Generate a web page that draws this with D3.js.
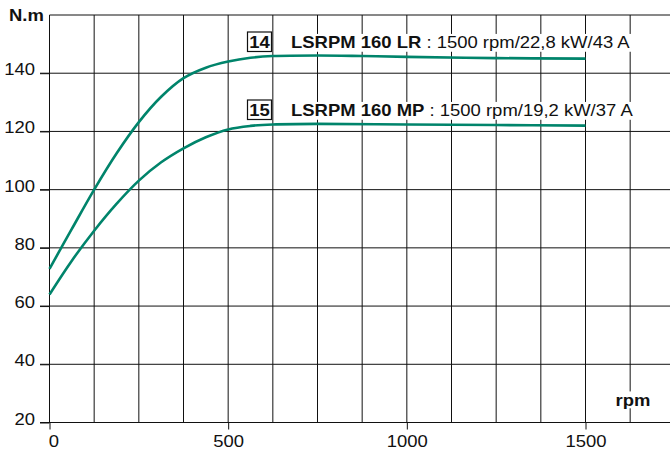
<!DOCTYPE html>
<html>
<head>
<meta charset="utf-8">
<script src="https://cdn.jsdelivr.net/npm/d3@7/dist/d3.min.js"></script>
<style>
  html, body { margin: 0; padding: 0; background: #fff; }
  svg { display: block; font-family: "Liberation Sans", Arial, sans-serif; }
</style>
</head>
<body>
<script>
// ---------- data ----------
const rpmLR = [0, 62.5, 125, 187.5, 250, 312.5, 375, 437.5, 500, 562.5, 625, 750, 875, 1000, 1250, 1500];
const torqueLR = [72.8, 86.5, 100, 112.4, 123.2, 131.9, 138.3, 141.9, 144.0, 145.3, 145.9, 146.1, 145.9, 145.6, 145.2, 145.0];
const rpmMP = [0, 62.5, 125, 187.5, 250, 312.5, 375, 437.5, 500, 562.5, 625, 750, 1000, 1250, 1500];
const torqueMP = [64.0, 75.6, 85.9, 95.1, 103.1, 109.4, 114.2, 118.0, 120.7, 121.9, 122.4, 122.6, 122.4, 122.2, 122.0];
const seriesIds = ["14", "15"];
const seriesNames = ["LSRPM 160 LR", "LSRPM 160 MP"];
const seriesDetails = [" : 1500 rpm/22,8 kW/43 A", " : 1500 rpm/19,2 kW/37 A"];
const xTickLabels = [0, 500, 1000, 1500];
const xGridValues = [125, 250, 375, 500, 625, 750, 875, 1000, 1125, 1250, 1375, 1500, 1625];
const yTickLabels = [20, 40, 60, 80, 100, 120, 140];
const yGridValues = [40, 60, 80, 100, 120, 140, 160];
const yTitle = "N.m";
const xTitle = "rpm";

// ---------- layout ----------
const W = 670, H = 452;
const SX = 1.12;            // horizontal stretch of the original lettering
const FS = 16.5;
const green = "#00846b";
const gridColor = "#111";

const x = d3.scaleLinear().domain([0, 1500]).range([49.5, 585.5]);
const y = d3.scaleLinear().domain([20, 160]).range([422.5, 15]);

const svg = d3.select("body").append("svg").attr("width", W).attr("height", H);

// ---------- grid ----------
const grid = svg.append("g").attr("stroke", gridColor).attr("stroke-width", 1).attr("fill", "none");
grid.selectAll("line.v").data(xGridValues).join("line")
  .attr("class", "v")
  .attr("x1", d => x(d)).attr("x2", d => x(d))
  .attr("y1", y(160)).attr("y2", y(20));
grid.selectAll("line.h").data(yGridValues).join("line")
  .attr("class", "h")
  .attr("x1", d => d === 160 ? x(0) : x(0) - 9.5).attr("x2", W)
  .attr("y1", d => y(d)).attr("y2", d => y(d));
grid.append("line").attr("x1", x(0)).attr("x2", x(0)).attr("y1", y(160)).attr("y2", y(20));
grid.append("line").attr("x1", x(0) - 9.5).attr("x2", W).attr("y1", y(20)).attr("y2", y(20));

// ---------- axes (ticks + labels) ----------
const yAxis = svg.append("g").attr("transform", `translate(${x(0)},0)`)
  .call(d3.axisLeft(y).tickValues(yTickLabels).tickFormat(d3.format("d")).tickSize(9.5).tickSizeOuter(0));
yAxis.select(".domain").remove();
yAxis.selectAll(".tick line").attr("stroke", gridColor);
yAxis.selectAll(".tick text")
  .attr("x", null).attr("dy", null)
  .attr("transform", `translate(-14.5,1.5) scale(${SX},1)`)
  .attr("font-size", FS).attr("font-family", "Liberation Sans, Arial, sans-serif")
  .attr("fill", "#111");

const xAxis = svg.append("g").attr("transform", `translate(0,${y(20)})`)
  .call(d3.axisBottom(x).tickValues(xTickLabels).tickFormat(d3.format("d")).tickSize(7).tickSizeOuter(0));
xAxis.select(".domain").remove();
xAxis.selectAll(".tick line").attr("stroke", gridColor);
xAxis.selectAll(".tick text")
  .attr("y", null).attr("dy", null)
  .attr("transform", d => `translate(${d === 0 ? 4 : 0},24) scale(${SX},1)`)
  .attr("font-size", FS).attr("font-family", "Liberation Sans, Arial, sans-serif")
  .attr("fill", "#111");

// ---------- titles ----------
function stretched(parent, tx, ty, anchor) {
  return parent.append("g").attr("transform", `translate(${tx},${ty}) scale(${SX},1)`)
    .append("text").attr("text-anchor", anchor).attr("font-size", FS).attr("fill", "#111");
}
stretched(svg, 9, 21, "start").attr("font-weight", "bold").text(yTitle);

const rpmT = stretched(svg, 633, 405.5, "middle").attr("font-weight", "bold").text(xTitle);
{
  const bb = rpmT.node().getBBox();
  d3.select(rpmT.node().parentNode).insert("rect", "text")
    .attr("x", bb.x - 1).attr("y", bb.y + 1).attr("width", bb.width + 2).attr("height", bb.height - 2)
    .attr("fill", "#fff");
}

// ---------- curves ----------
const line = d3.line().x(d => x(d[0])).y(d => y(d[1])).curve(d3.curveCatmullRom.alpha(0.5));
const curves = [d3.zip(rpmLR, torqueLR), d3.zip(rpmMP, torqueMP)];
svg.append("g").selectAll("path").data(curves).join("path")
  .attr("d", line)
  .attr("fill", "none")
  .attr("stroke", green)
  .attr("stroke-width", 2.6)
  .attr("stroke-linejoin", "round");

// ---------- series labels ----------
const labelBaselines = [48, 116];
seriesIds.forEach((id, i) => {
  const by = labelBaselines[i];
  svg.append("rect")
    .attr("x", 247.5).attr("y", by - 16).attr("width", 24).attr("height", 19.5)
    .attr("fill", "#fff").attr("stroke", "#111").attr("stroke-width", 1.2);
  stretched(svg, 259.5, by, "middle").attr("font-weight", "bold").text(id);

  const t = stretched(svg, 291, by, "start");
  t.append("tspan").attr("font-weight", "bold").text(seriesNames[i]);
  t.append("tspan").text(seriesDetails[i]);
  const bb = t.node().getBBox();
  d3.select(t.node().parentNode).insert("rect", "text")
    .attr("x", bb.x - 4).attr("y", bb.y + 1).attr("width", bb.width + 8).attr("height", bb.height - 1)
    .attr("fill", "#fff");
});
</script>
</body>
</html>
